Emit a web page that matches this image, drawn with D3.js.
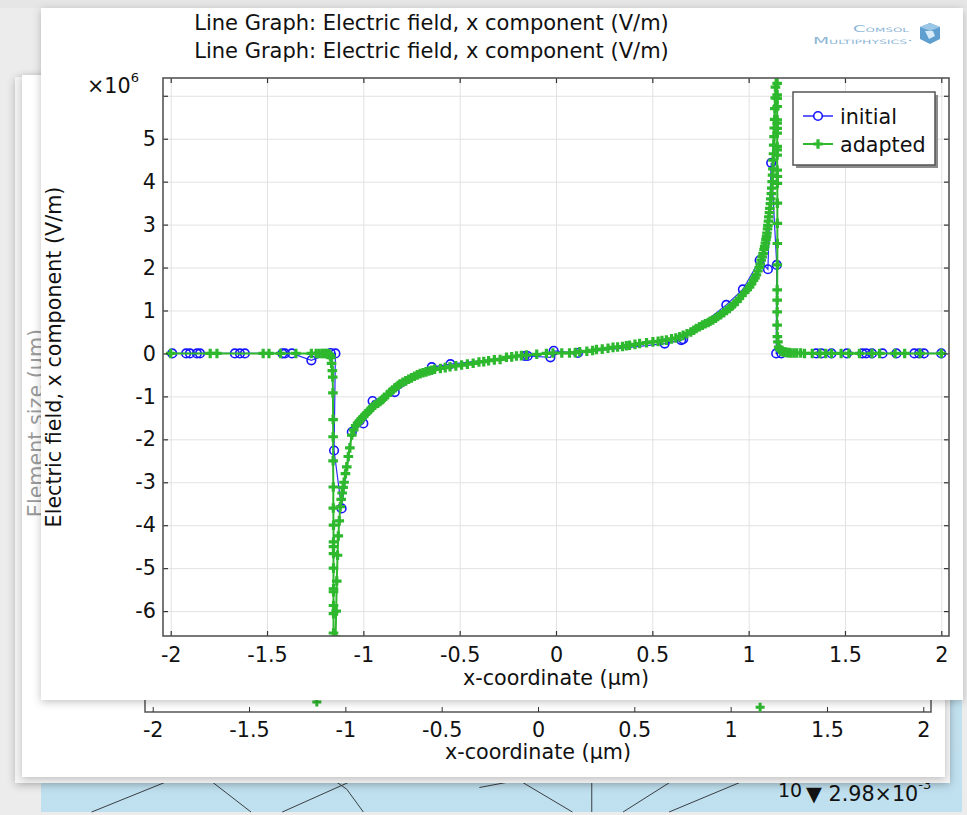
<!DOCTYPE html>
<html>
<head>
<meta charset="utf-8">
<script src="https://cdn.jsdelivr.net/npm/d3@7"></script>
<style>
  html, body { margin: 0; padding: 0; background: #ececec; }
  svg { display: block; font-family: "DejaVu Sans", sans-serif; }
</style>
</head>
<body>
<svg id="chart" width="967" height="815"></svg>
<script>
// ---- data (field values in units of 1e6 V/m, coordinates in µm) ----
const xTicks = [-2, -1.5, -1, -0.5, 0, 0.5, 1, 1.5, 2];
const yTicks = [-6, -5, -4, -3, -2, -1, 0, 1, 2, 3, 4, 5, 6];
const yTickLabels = [-6, -5, -4, -3, -2, -1, 0, 1, 2, 3, 4, 5];
const titleLines = [
  "Line Graph: Electric field, x component (V/m)",
  "Line Graph: Electric field, x component (V/m)"
];
const seriesNames = ["initial", "adapted"];

const initialX = [-1.992, -1.92, -1.90, -1.864, -1.848, -1.667, -1.641, -1.615, -1.42, -1.407, -1.371,
  -1.27, -1.17, -1.145, -1.152, -1.113, -1.06, -1.0, -0.952, -0.837, -0.645, -0.548, -0.162, -0.147,
  -0.029, -0.012, 0.114, 0.564, 0.65, 0.66, 0.884, 0.97, 1.057, 1.10, 1.117, 1.146, 1.143, 1.17,
  1.351, 1.377, 1.43, 1.51, 1.59, 1.61, 1.64, 1.695, 1.767, 1.86, 1.885, 1.91, 2.0];
const initialY = [0, 0, 0, 0, 0, 0, 0, 0, 0, 0, 0,
  -0.16, 0.01, 0, -2.26, -3.61, -1.83, -1.63, -1.11, -0.9, -0.32, -0.25, -0.06, -0.06,
  -0.09, 0.06, 0.01, 0.23, 0.31, 0.33, 1.13, 1.49, 2.17, 1.96, 4.44, 2.06, 0, 0,
  0, 0, 0, 0, 0, 0, 0, 0, 0, 0, 0, 0, 0];

const adaptedX = [-2.0, -1.795, -1.76, -1.52, -1.49, -1.43, -1.35, -1.27, -1.245, -1.23, -1.215, -1.205,
  -1.195, -1.188, -1.182, -1.177, -1.172, -1.168, -1.165, -1.161, -1.159, -1.158, -1.157, -1.157,
  -1.157, -1.156, -1.156, -1.155, -1.155, -1.155, -1.155, -1.155, -1.155, -1.155, -1.155, -1.155,
  -1.155, -1.155,
  -1.146, -1.144, -1.141, -1.138, -1.134, -1.13, -1.125, -1.12, -1.115, -1.11, -1.105, -1.1, -1.093,
  -1.086, -1.078, -1.07, -1.06, -1.05, -1.04, -1.03, -1.02, -1.01, -1.0, -0.99, -0.98, -0.97, -0.96,
  -0.95, -0.94, -0.925, -0.913, -0.9, -0.89, -0.875, -0.86, -0.848, -0.835, -0.82, -0.81, -0.795,
  -0.78, -0.765, -0.75, -0.735, -0.72, -0.705, -0.69, -0.675, -0.66, -0.645, -0.63, -0.6, -0.575,
  -0.55, -0.52, -0.49, -0.46, -0.43, -0.4, -0.375, -0.35, -0.32, -0.29, -0.257, -0.23, -0.205,
  -0.18, -0.154, -0.1, -0.05, -0.016, 0.03, 0.07, 0.1, 0.123, 0.16, 0.19, 0.21, 0.24, 0.27, 0.296,
  0.32, 0.345, 0.365, 0.382, 0.41, 0.434, 0.47, 0.503, 0.53, 0.55, 0.573, 0.6, 0.622, 0.642, 0.66,
  0.68, 0.7, 0.715, 0.728, 0.745, 0.76, 0.775, 0.79, 0.8, 0.814, 0.828, 0.84, 0.855, 0.87, 0.885,
  0.9, 0.912, 0.925, 0.94, 0.952, 0.965, 0.98, 0.993, 1.005, 1.015, 1.025, 1.033, 1.04, 1.048,
  1.055, 1.06, 1.065, 1.07, 1.075, 1.08, 1.083, 1.087, 1.09, 1.093, 1.095, 1.098, 1.1, 1.103, 1.105,
  1.108, 1.11, 1.113, 1.115, 1.118, 1.12, 1.122, 1.124, 1.126, 1.127, 1.129, 1.13, 1.132, 1.133,
  1.135, 1.136, 1.138, 1.139, 1.142,
  1.148, 1.148, 1.148, 1.148, 1.148, 1.148, 1.148, 1.148, 1.148, 1.148, 1.148, 1.148, 1.148, 1.149,
  1.149, 1.149, 1.149, 1.149, 1.149, 1.148, 1.148, 1.148, 1.148, 1.149, 1.152, 1.156, 1.16, 1.165,
  1.171, 1.177, 1.183, 1.19, 1.2, 1.21, 1.22, 1.235, 1.25, 1.27, 1.29, 1.33, 1.37, 1.40, 1.43,
  1.48, 1.52, 1.575, 1.64, 1.68, 1.76, 1.81, 1.89, 2.0];
const adaptedY = [0, 0, 0, 0, 0, 0, 0, 0, 0, 0, 0, 0,
  0, 0, -0.01, -0.02, -0.05, -0.1, -0.23, -0.4, -0.55, -0.92, -1.54, -1.94,
  -2.5, -3.11, -3.6, -4.0, -4.39, -4.5, -4.66, -5.0, -5.48, -5.55, -5.87, -6.06, -6.51,
  -7.2,
  -7.4, -6.6, -6.0, -5.3, -4.7, -4.25, -3.9, -3.57, -3.4, -3.25, -3.12, -3.0, -2.8,
  -2.64, -2.4, -2.2, -1.9, -1.78, -1.68, -1.62, -1.57, -1.52, -1.47, -1.42, -1.38, -1.33, -1.28,
  -1.24, -1.2, -1.16, -1.12, -1.07, -1.02, -0.96, -0.9, -0.85, -0.8, -0.75, -0.71, -0.67,
  -0.64, -0.6, -0.57, -0.53, -0.5, -0.47, -0.45, -0.43, -0.41, -0.39, -0.37, -0.35, -0.33,
  -0.31, -0.29, -0.27, -0.25, -0.23, -0.2, -0.19, -0.17, -0.15, -0.14, -0.09, -0.08, -0.06,
  -0.05, -0.04, -0.02, 0.0, 0.01, 0.01, 0.01, 0.02, 0.04, 0.05, 0.07, 0.09, 0.1, 0.12, 0.14,
  0.15, 0.16, 0.18, 0.19, 0.21, 0.23, 0.25, 0.27, 0.28, 0.3, 0.31, 0.34, 0.36, 0.39, 0.42,
  0.46, 0.5, 0.54, 0.58, 0.62, 0.66, 0.69, 0.72, 0.75, 0.78, 0.82, 0.86, 0.9, 0.95, 1.0,
  1.05, 1.1, 1.15, 1.21, 1.28, 1.35, 1.42, 1.49, 1.55, 1.62, 1.7, 1.76, 1.83, 1.92,
  2.0, 2.08, 2.17, 2.25, 2.33, 2.42, 2.49, 2.57, 2.65, 2.72, 2.8, 2.9, 2.98, 3.08, 3.18,
  3.28, 3.38, 3.49, 3.6, 3.72, 3.85, 4.0, 4.15, 4.3, 4.5, 4.65, 4.85, 5.05, 5.25,
  5.45, 5.7, 5.95, 6.2, 6.9,
  7.3, 6.29, 6.02, 5.94, 5.75, 5.44, 5.36, 5.24, 5.13, 4.82, 4.74, 4.62, 4.27, 4.12,
  3.96, 3.5, 3.03, 2.56, 2.06, 1.48, 1.24, 0.97, 0.66, 0.39, 0.27, 0.15, 0.1, 0.08,
  0.06, 0.04, 0.035, 0.03, 0.02, 0.02, 0.01, 0.01, 0.01, 0.01, 0, 0, 0, 0, 0,
  0, 0, 0, 0, 0, 0, 0, 0, 0];

// element-size plot lying behind the field plot
const elementSizeX = [-1.148, 1.153];
const elementSizeY = [0.25, 0.12];
// mesh edges of the surface plot at the bottom (strip units: x 0..100, y 0..10)
const meshEdges = [
  [5.5, 10, 14.9, 0], [17.9, 0, 22.8, 10], [26.2, 10, 34.7, 0], [31.3, 0, 33.2, 3.5],
  [33.2, 3.5, 35, 10], [47.6, 3, 53.7, 0], [51.3, 0, 57.7, 10], [59.8, 0, 59.8, 10],
  [63.2, 10, 69.2, 0], [68.2, 10, 77.3, 0]
];

// ---- geometry ----
const svg = d3.select("#chart");
const plot = { left: 163, right: 949, top: 78, bottom: 636 };
const x = d3.scaleLinear().domain([-2.04, 2.04]).range([plot.left, plot.right]);
const y = d3.scaleLinear().domain([-6.58, 6.414]).range([plot.bottom, plot.top]);
const fmt = d => String(d);
const FS = "20.7px";

// ---- defs ----
const defs = svg.append("defs");
const sh = defs.append("filter").attr("id", "panelShadow")
  .attr("x", "-5%").attr("y", "-5%").attr("width", "110%").attr("height", "110%");
sh.append("feDropShadow").attr("dx", 0).attr("dy", 2).attr("stdDeviation", 4)
  .attr("flood-color", "#000").attr("flood-opacity", 0.24);
const grad = defs.append("linearGradient").attr("id", "surfaceFill")
  .attr("x1", 0).attr("y1", 0).attr("x2", 0).attr("y2", 1);
grad.append("stop").attr("offset", "0%").attr("stop-color", "#d6eaf4");
grad.append("stop").attr("offset", "100%").attr("stop-color", "#bfe0ef");
defs.append("clipPath").attr("id", "plotClip").append("rect")
  .attr("x", plot.left).attr("y", plot.top)
  .attr("width", plot.right - plot.left).attr("height", plot.bottom - plot.top);

// ---- background windows ----
svg.append("rect").attr("width", 967).attr("height", 815).attr("fill", "#ececec");
svg.append("rect").attr("x", 0).attr("y", 0).attr("width", 967).attr("height", 8).attr("fill", "#e6e6e6");

// surface plot window (bottom)
const surf = svg.append("g");
surf.append("rect").attr("x", 41).attr("y", 8).attr("width", 921).attr("height", 804)
  .attr("fill", "url(#surfaceFill)");
const mx = d3.scaleLinear().domain([0, 100]).range([41, 962]);
const my = d3.scaleLinear().domain([0, 10]).range([777, 812]);
surf.selectAll("line.mesh").data(meshEdges).join("line").attr("class", "mesh")
  .attr("x1", d => mx(d[0])).attr("y1", d => my(d[1]))
  .attr("x2", d => mx(d[2])).attr("y2", d => my(d[3]))
  .attr("stroke", "#3a3f44").attr("stroke-width", 1);
surf.append("text").attr("x", 778).attr("y", 797).attr("font-size", "19px").attr("fill", "#111").text("10");
const rng = surf.append("text").attr("x", 806).attr("y", 801).attr("font-size", FS).attr("fill", "#111");
rng.append("tspan").text("▼ 2.98×10");
rng.append("tspan").attr("dy", -12).attr("font-size", "13px").text("-3");

// far back window
svg.append("rect").attr("x", 15).attr("y", 77).attr("width", 935).attr("height", 706)
  .attr("fill", "#f5f5f5").attr("filter", "url(#panelShadow)");
// element-size plot window
const back = svg.append("g");
back.append("rect").attr("x", 22).attr("y", 75).attr("width", 923).attr("height", 702)
  .attr("fill", "#ffffff").attr("filter", "url(#panelShadow)");
const xb = d3.scaleLinear().domain([-2.04, 2.04]).range([145, 931]);
const yb = d3.scaleLinear().domain([0, 1]).range([712, 672]);
back.append("rect").attr("x", 145).attr("y", 640).attr("width", 786).attr("height", 72)
  .attr("fill", "none").attr("stroke", "#555").attr("stroke-width", 1.5);
back.append("g").attr("transform", "translate(0,712)")
  .call(d3.axisTop(xb).tickValues(xTicks).tickSize(5).tickFormat(""))
  .call(g => g.select(".domain").remove())
  .call(g => g.selectAll("line").attr("stroke", "#333"));
back.append("g").attr("transform", "translate(0,712)")
  .call(d3.axisBottom(xb).tickValues(xTicks).tickSize(0).tickPadding(10).tickFormat(fmt))
  .call(g => g.select(".domain").remove())
  .call(g => g.selectAll("text").attr("font-size", FS).attr("font-family", "DejaVu Sans").attr("fill", "#111"));
back.append("text").attr("x", xb(0)).attr("y", 759).attr("text-anchor", "middle")
  .attr("font-size", FS).attr("fill", "#111").text("x-coordinate (µm)");
back.append("text").attr("transform", "translate(43,423) rotate(-90)").attr("text-anchor", "middle")
  .attr("font-size", FS).attr("fill", "#9a9a9a").text("Element size (µm)");
back.selectAll("path.es").data(elementSizeX).join("path").attr("class", "es")
  .attr("transform", (d, i) => `translate(${xb(d)},${yb(elementSizeY[i])})`)
  .attr("d", "M-4.5,0H4.5M0,-4.5V4.5").attr("stroke", "#2eb82e").attr("stroke-width", 3);

// ---- front window with the field plot ----
svg.append("rect").attr("x", 41).attr("y", 8).attr("width", 922).attr("height", 692)
  .attr("fill", "#ffffff").attr("filter", "url(#panelShadow)");

// titles
svg.selectAll("text.title").data(titleLines).join("text").attr("class", "title")
  .attr("x", 431.5).attr("y", (d, i) => 30 + i * 27.5).attr("text-anchor", "middle")
  .attr("font-size", "21px").attr("fill", "#111").text(d => d);

// logo
const logo = svg.append("g");
logo.append("text").attr("x", 853).attr("y", 32).attr("textLength", 56).attr("lengthAdjust", "spacingAndGlyphs")
  .attr("font-size", "9px").attr("font-variant", "small-caps")
  .attr("fill", "#8db6d6").text("Comsol");
logo.append("text").attr("x", 813).attr("y", 43.5).attr("textLength", 100).attr("lengthAdjust", "spacingAndGlyphs")
  .attr("font-size", "9px").attr("font-variant", "small-caps")
  .attr("fill", "#8db6d6").text("Multiphysics·");
logo.append("path").attr("d", "M920,27 L930,23 L940,27 L940,39 L930,44 L920,39 Z").attr("fill", "#5e9fd0");
logo.append("path").attr("d", "M920,27 L930,31 L940,27 L930,23 Z").attr("fill", "#9cc6e6");
logo.append("path").attr("d", "M925,31 L933,31 L935,36 L929,39 Z").attr("fill", "#d7eaf7");

// grid
const grid = svg.append("g");
grid.append("g").attr("transform", `translate(0,${plot.bottom})`)
  .call(d3.axisBottom(x).tickValues(xTicks).tickSize(-(plot.bottom - plot.top)).tickFormat(""))
  .call(g => g.select(".domain").remove())
  .call(g => g.selectAll("line").attr("stroke", "#e2e2e2").attr("stroke-width", 1));
grid.append("g").attr("transform", `translate(${plot.left},0)`)
  .call(d3.axisLeft(y).tickValues(yTicks).tickSize(-(plot.right - plot.left)).tickFormat(""))
  .call(g => g.select(".domain").remove())
  .call(g => g.selectAll("line").attr("stroke", "#e2e2e2").attr("stroke-width", 1));

// data
const initial = initialX.map((v, i) => [v, initialY[i]]);
const adapted = adaptedX.map((v, i) => [v, adaptedY[i]]);
const line = d3.line().x(d => x(d[0])).y(d => y(d[1]));
const plus = "M-4.8,0H4.8M0,-4.8V4.8";
const data = svg.append("g").attr("clip-path", "url(#plotClip)");
data.append("path").datum(initial).attr("d", line)
  .attr("fill", "none").attr("stroke", "#2a2aff").attr("stroke-width", 1.2);
data.selectAll("circle.init").data(initial).join("circle").attr("class", "init")
  .attr("cx", d => x(d[0])).attr("cy", d => y(d[1])).attr("r", 4.3)
  .attr("fill", "none").attr("stroke", "#1515ff").attr("stroke-width", 1.6);
data.append("path").datum(adapted).attr("d", line)
  .attr("fill", "none").attr("stroke", "#2eb82e").attr("stroke-width", 2);
data.selectAll("path.adp").data(adapted).join("path").attr("class", "adp")
  .attr("transform", d => `translate(${x(d[0])},${y(d[1])})`)
  .attr("d", plus)
  .attr("stroke", "#2eb82e").attr("stroke-width", 3.2);

// frame and inward ticks
const axes = svg.append("g");
const tickStyle = g => { g.select(".domain").remove(); g.selectAll("line").attr("stroke", "#333").attr("stroke-width", 1.2); };
axes.append("g").attr("transform", `translate(0,${plot.bottom})`)
  .call(d3.axisTop(x).tickValues(xTicks).tickSize(5).tickFormat("")).call(tickStyle);
axes.append("g").attr("transform", `translate(0,${plot.top})`)
  .call(d3.axisBottom(x).tickValues(xTicks).tickSize(5).tickFormat("")).call(tickStyle);
axes.append("g").attr("transform", `translate(${plot.left},0)`)
  .call(d3.axisRight(y).tickValues(yTicks).tickSize(5).tickFormat("")).call(tickStyle);
axes.append("g").attr("transform", `translate(${plot.right},0)`)
  .call(d3.axisLeft(y).tickValues(yTicks).tickSize(5).tickFormat("")).call(tickStyle);
axes.append("rect").attr("x", plot.left).attr("y", plot.top)
  .attr("width", plot.right - plot.left).attr("height", plot.bottom - plot.top)
  .attr("fill", "none").attr("stroke", "#555").attr("stroke-width", 1.6);

// tick labels
const labelStyle = g => {
  g.select(".domain").remove();
  g.selectAll("text").attr("font-size", FS).attr("font-family", "DejaVu Sans").attr("fill", "#111");
};
axes.append("g").attr("transform", `translate(0,${plot.bottom})`)
  .call(d3.axisBottom(x).tickValues(xTicks).tickSize(0).tickPadding(11).tickFormat(fmt)).call(labelStyle);
axes.append("g").attr("transform", `translate(${plot.left},0)`)
  .call(d3.axisLeft(y).tickValues(yTickLabels).tickSize(0).tickPadding(7).tickFormat(fmt)).call(labelStyle);

// axis titles
axes.append("text").attr("x", x(0)).attr("y", 685).attr("text-anchor", "middle")
  .attr("font-size", FS).attr("fill", "#111").text("x-coordinate (µm)");
axes.append("text").attr("transform", `translate(61,${(plot.top + plot.bottom) / 2}) rotate(-90)`)
  .attr("text-anchor", "middle").attr("font-size", FS).attr("fill", "#111")
  .text("Electric field, x component (V/m)");
const mult = axes.append("text").attr("x", 87).attr("y", 93).attr("font-size", FS).attr("fill", "#111");
mult.append("tspan").text("×10");
mult.append("tspan").attr("dy", -11).attr("font-size", "13px").text("6");

// legend
const lg = svg.append("g");
lg.append("rect").attr("x", 796).attr("y", 95).attr("width", 142).attr("height", 73).attr("fill", "#8c8c8c");
lg.append("rect").attr("x", 793).attr("y", 92).attr("width", 142).attr("height", 73)
  .attr("fill", "#fff").attr("stroke", "#555").attr("stroke-width", 1.5);
const ly = [116, 144];
lg.append("line").attr("x1", 803).attr("x2", 833).attr("y1", ly[0]).attr("y2", ly[0])
  .attr("stroke", "#2a2aff").attr("stroke-width", 1.5);
lg.append("circle").attr("cx", 818).attr("cy", ly[0]).attr("r", 4.3)
  .attr("fill", "#fff").attr("stroke", "#1515ff").attr("stroke-width", 1.6);
lg.append("line").attr("x1", 803).attr("x2", 833).attr("y1", ly[1]).attr("y2", ly[1])
  .attr("stroke", "#2eb82e").attr("stroke-width", 2);
lg.append("path").attr("transform", `translate(818,${ly[1]})`).attr("d", plus)
  .attr("stroke", "#2eb82e").attr("stroke-width", 3.2);
lg.selectAll("text").data(seriesNames).join("text")
  .attr("x", 840).attr("y", (d, i) => ly[i] + 7.5)
  .attr("font-size", FS).attr("fill", "#111").text(d => d);
</script>
</body>
</html>
